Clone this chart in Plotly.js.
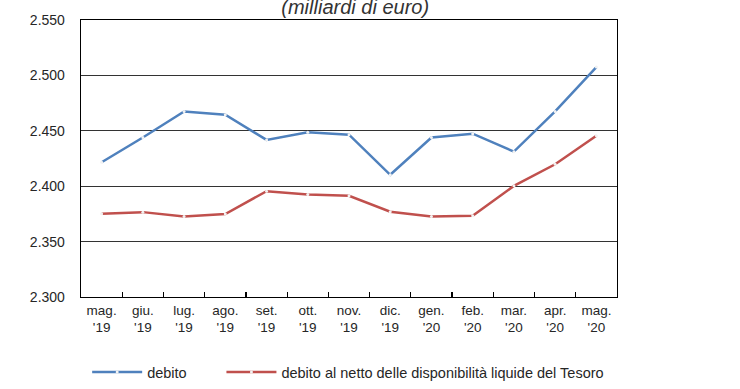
<!DOCTYPE html>
<html>
<head>
<meta charset="utf-8">
<script src="https://cdn.plot.ly/plotly-3.0.1.min.js"></script>
<style>html,body{margin:0;padding:0;background:#fff;}#chart{width:740px;height:389px;}</style>
</head>
<body>
<div id="chart"></div>
<script>
var months = ["mag.<br>'19","giu.<br>'19","lug.<br>'19","ago.<br>'19","set.<br>'19","ott.<br>'19","nov.<br>'19","dic.<br>'19","gen.<br>'20","feb.<br>'20","mar.<br>'20","apr.<br>'20","mag.<br>'20"];
var debito = [2421.6, 2444.0, 2467.5, 2464.5, 2441.8, 2448.6, 2446.5, 2410.3, 2444.0, 2447.4, 2431.2, 2467.5, 2507.5];
var debitoNetto = [2375.2, 2376.6, 2372.7, 2374.8, 2395.5, 2392.5, 2391.3, 2376.9, 2372.7, 2373.3, 2400.3, 2419.8, 2445.6];
var yTicks = [2300, 2350, 2400, 2450, 2500, 2550];

var fontFam = 'Liberation Sans, Arial, sans-serif';
var txtCol = '#262626';
var traces = [
  {x: months, y: debito, name: 'debito', type: 'scatter', mode: 'lines+markers', legend: 'legend',
   line: {color: '#4f81bd', width: 2.5}, marker: {size: 3, color: '#f2f2f2'}},
  {x: months, y: debitoNetto, name: 'debito al netto delle disponibilità liquide del Tesoro', type: 'scatter', mode: 'lines+markers', legend: 'legend2',
   line: {color: '#c0504d', width: 2.5}, marker: {size: 3, color: '#f2f2f2'}}
];
var legendBase = {orientation: 'h', xanchor: 'left', y: -0.271, yanchor: 'middle', itemwidth: 50,
                  font: {family: fontFam, size: 14.5, color: txtCol}, bgcolor: 'rgba(0,0,0,0)'};
var layout = {
  width: 740, height: 389,
  margin: {l: 80.5, r: 122.5, t: 20, b: 92.3, autoexpand: false},
  paper_bgcolor: '#fff', plot_bgcolor: '#fff',
  separators: ',.',
  font: {family: fontFam, size: 14, color: txtCol},
  title: {text: '(milliardi di euro)', font: {family: fontFam, size: 20, style: 'italic', color: '#333'},
          x: 0.48, xanchor: 'center', xref: 'container', y: 0.982, yanchor: 'middle', yref: 'container'},
  showlegend: true,
  legend: Object.assign({}, legendBase, {x: 0.0115}),
  legend2: Object.assign({}, legendBase, {x: 0.262}),
  xaxis: {type: 'category', range: [-0.5, 12.5], autorange: false, showline: true, mirror: true, linecolor: '#000', linewidth: 1.3,
          ticks: 'inside', tickson: 'boundaries', ticklen: 5, tickcolor: '#000', tickwidth: 1.2, tickangle: 0,
          showgrid: false, zeroline: false, fixedrange: true,
          tickfont: {family: fontFam, size: 13.5, color: txtCol}},
  yaxis: {range: [2300, 2550], tickvals: yTicks, tickformat: ',d', showline: true, mirror: true,
          linecolor: '#000', linewidth: 1.3, ticks: '', showgrid: true, gridcolor: '#333', gridwidth: 1.3,
          zeroline: false, ticklabelstandoff: 12, tickfont: {family: fontFam, size: 14, color: txtCol}},
  yaxis2: {range: [2300, 2550], tickvals: yTicks, tickformat: ',d', overlaying: 'y', side: 'right',
           showgrid: false, zeroline: false, showline: false, ticks: '', matches: 'y', ticklabelstandoff: 12,
           tickfont: {family: fontFam, size: 14, color: txtCol}}
};
Plotly.newPlot('chart', traces, layout, {staticPlot: true, displayModeBar: false});
</script>
</body>
</html>
